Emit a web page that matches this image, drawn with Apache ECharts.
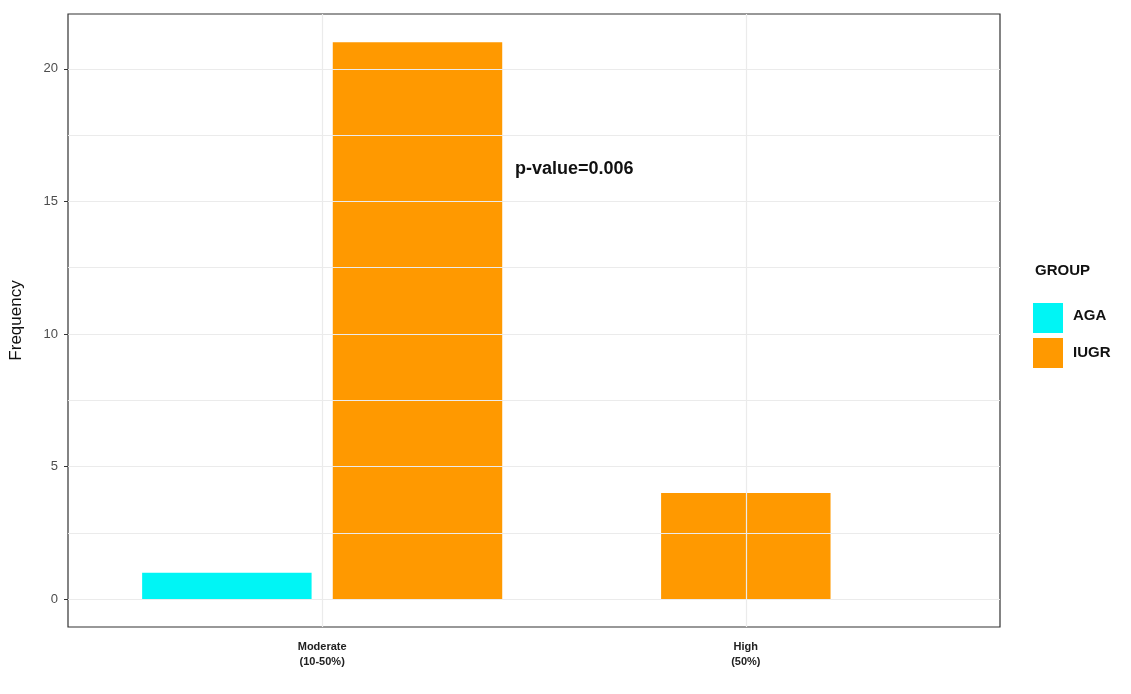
<!DOCTYPE html>
<html><head><meta charset="utf-8">
<script src="https://cdn.jsdelivr.net/npm/echarts@6/dist/echarts.min.js"></script>
<style>html,body{margin:0;padding:0;background:#fff}#c{width:1131px;height:694px}</style>
</head><body><div id="c"></div>
<script>
const categories = ['Moderate\n(10-50%)', 'High\n(50%)'];
const groups = ['AGA', 'IUGR'];
const agaValues = [1, null];
const iugrValues = [21, 4];
const yTicks = [0, 5, 10, 15, 20];
const yGrid = [0, 2.5, 5, 7.5, 10, 12.5, 15, 17.5, 20];
const colors = {AGA: '#00F5F5', IUGR: '#FF9900'};

// build dodge items: [catPos, offset, value, groupIndex]
const items = [];
categories.forEach((c, i) => {
  const present = [];
  if (agaValues[i] != null) present.push([0, agaValues[i]]);
  if (iugrValues[i] != null) present.push([1, iugrValues[i]]);
  present.forEach((p, k) => {
    const off = present.length === 1 ? 0 : (k === 0 ? -0.225 : 0.225);
    items.push([i + 1, off, p[1], p[0]]);
  });
});
const chart = echarts.init(document.getElementById('c'));
chart.setOption({
  animation: false,
  grid: {left: 68, top: 14, right: 131, bottom: 67, show: true, borderColor: '#333', borderWidth: 1.2},
  xAxis: {type: 'value', min: 0.4, max: 2.6,
    axisLine: {show: false}, splitLine: {show: false},
    axisTick: {show: true, customValues: [1, 2], length: 4, lineStyle: {color: '#333'}},
    axisLabel: {customValues: [1, 2], formatter: v => categories[Math.round(v) - 1],
      fontSize: 11, fontWeight: 'bold', color: '#222', lineHeight: 15, margin: 12, fontFamily: 'Liberation Sans'}},
  yAxis: {type: 'value', min: -1.05, max: 22.07, name: 'Frequency', nameLocation: 'middle', nameGap: 43,
    nameTextStyle: {fontSize: 17, color: '#111', fontFamily: 'Liberation Sans'},
    axisLine: {show: false}, splitLine: {show: false},
    axisTick: {show: true, customValues: yTicks, length: 4, lineStyle: {color: '#333'}},
    axisLabel: {customValues: yTicks, fontSize: 13, color: '#4d4d4d', margin: 10, fontFamily: 'Liberation Sans'}},
  legend: {show: false},
  series: [
    {type: 'line', data: [], silent: true, markLine: {symbol: 'none', silent: true, label: {show: false},
      lineStyle: {color: '#ebebeb', type: 'solid', width: 1.2},
      data: yGrid.map(v => ({yAxis: v})).concat([{xAxis: 1}, {xAxis: 2}])}},
    {type: 'custom', data: items, encode: {x: 0, y: 2},
      renderItem: (params, api) => {
        const x = api.value(0) + api.value(1);
        const p0 = api.coord([x - 0.2, 0]);
        const p1 = api.coord([x + 0.2, api.value(2)]);
        return {type: 'rect', shape: {x: p0[0], y: p1[1], width: p1[0] - p0[0], height: p0[1] - p1[1]},
          style: {fill: colors[groups[api.value(3)]]}};
      }}
  ],
  graphic: [
    {type: 'text', left: 515, top: 160, style: {text: 'p-value=0.006', font: 'bold 18px Liberation Sans', fill: '#111'}},
    {type: 'text', left: 1035, top: 263, style: {text: 'GROUP', font: 'bold 15px Liberation Sans', fill: '#111'}},
    {type: 'rect', shape: {x: 1033, y: 303, width: 30, height: 30}, style: {fill: colors.AGA}},
    {type: 'rect', shape: {x: 1033, y: 338, width: 30, height: 30}, style: {fill: colors.IUGR}},
    {type: 'text', left: 1073, top: 308, style: {text: 'AGA', font: 'bold 15px Liberation Sans', fill: '#111'}},
    {type: 'text', left: 1073, top: 345, style: {text: 'IUGR', font: 'bold 15px Liberation Sans', fill: '#111'}}
  ]
});
</script></body></html>
